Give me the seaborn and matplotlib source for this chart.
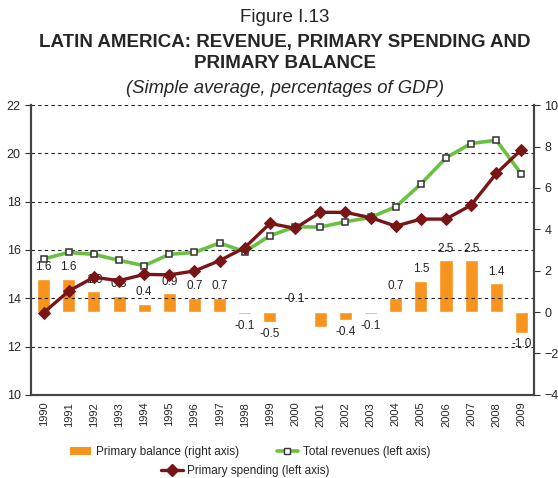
import numpy as np
import pandas as pd
import matplotlib.pyplot as plt
from matplotlib.patches import Patch
from matplotlib.lines import Line2D
import seaborn as sns

years = [str(y) for y in range(1990, 2010)]
revenues = [15.63, 15.90, 15.82, 15.57, 15.35, 15.82, 15.90, 16.29, 15.93, 16.59,
            16.96, 16.95, 17.17, 17.35, 17.79, 18.73, 19.82, 20.41, 20.55, 19.14]
spending = [13.40, 14.30, 14.87, 14.73, 14.99, 14.97, 15.13, 15.56, 16.10, 17.10,
            16.90, 17.56, 17.56, 17.34, 16.99, 17.28, 17.28, 17.86, 19.17, 20.16]
balance = [1.6, 1.6, 1.0, 0.8, 0.4, 0.9, 0.7, 0.7, -0.1, -0.5,
           0.05, -0.7, -0.4, -0.1, 0.7, 1.5, 2.5, 2.5, 1.4, -1.0]
balance_labels = ['1.6', '1.6', '1.0', '0.8', '0.4', '0.9', '0.7', '0.7', '-0.1', '-0.5',
                  '-0.1', '', '-0.4', '-0.1', '0.7', '1.5', '2.5', '2.5', '1.4', '-1.0']

ORANGE = '#F7941D'
GREEN = '#6CBF45'
DARKRED = '#7A1517'

df = pd.DataFrame({'year': years, 'revenues': revenues,
                   'spending': spending, 'balance': balance})
df['pos'] = np.arange(len(df))

sns.set_style('white')
plt.rcParams['font.family'] = ['Liberation Sans', 'DejaVu Sans']

fig, ax = plt.subplots(figsize=(5.58, 4.78), dpi=100)
fig.subplots_adjust(left=0.0556, right=0.957, top=0.78, bottom=0.174)
ax2 = ax.twinx()

# bars on the right axis, drawn below the lines
sns.barplot(data=df, x='pos', y='balance', ax=ax2, color=ORANGE,
            saturation=1, width=0.52, native_scale=True)
for i, (v, lab) in enumerate(zip(balance, balance_labels)):
    if not lab:
        continue
    if v >= 0:
        ax2.annotate(lab, (i, v), xytext=(0, 4), textcoords='offset points',
                     ha='center', va='bottom', fontsize=8.5, color='#222222')
    else:
        ax2.annotate(lab, (i, v), xytext=(0, -4), textcoords='offset points',
                     ha='center', va='top', fontsize=8.5, color='#222222')

sns.lineplot(data=df, x='pos', y='revenues', ax=ax, color=GREEN, linewidth=2.6,
             marker='s', markersize=5, markerfacecolor='white',
             markeredgecolor='#333333', markeredgewidth=1.1)
sns.lineplot(data=df, x='pos', y='spending', ax=ax, color=DARKRED, linewidth=2.4,
             marker='D', markersize=6.5, markeredgecolor=DARKRED)

ax.set_zorder(ax2.get_zorder() + 1)
ax.patch.set_visible(False)

ax.set_xlim(-0.5, len(years) - 0.5)
ax.set_ylim(10, 22)
ax.set_yticks(np.arange(10, 23, 2))
ax2.set_ylim(-4, 10)
ax2.set_yticks(np.arange(-4, 11, 2))
ax.set_xticks(np.arange(len(years)))
ax.set_xticklabels(years, rotation=90, fontsize=8)
ax.set_xticks(np.arange(-0.5, len(years), 1), minor=True)
ax.tick_params(axis='x', which='major', length=0, pad=5)
ax.tick_params(axis='x', which='minor', length=4, direction='out', color='#333333')
ax.tick_params(axis='y', length=4, direction='out', labelsize=9, color='#333333')
ax2.tick_params(axis='y', length=4, direction='out', labelsize=9, color='#333333')
ax.set_xlabel('')
ax.set_ylabel('')
ax2.set_ylabel('')

ax.yaxis.grid(True, linestyle=(0, (3, 3)), color='#222222', linewidth=0.8)
ax.xaxis.grid(False)
ax2.grid(False)

for a in (ax, ax2):
    a.spines['top'].set_visible(False)
    for s in ('left', 'right', 'bottom'):
        a.spines[s].set_color('#444444')
        a.spines[s].set_linewidth(1.5)

fig.text(0.51, 0.964, 'Figure I.13', ha='center', va='center', fontsize=13.5)
fig.text(0.51, 0.912, 'LATIN AMERICA: REVENUE, PRIMARY SPENDING AND',
         ha='center', va='center', fontsize=13.5, fontweight='bold')
fig.text(0.51, 0.868, 'PRIMARY BALANCE', ha='center', va='center',
         fontsize=13.5, fontweight='bold')
fig.text(0.51, 0.814, '(Simple average, percentages of GDP)', ha='center',
         va='center', fontsize=13.3, style='italic')

h_bal = Patch(facecolor=ORANGE, edgecolor='none')
h_rev = Line2D([], [], color=GREEN, linewidth=2.6, marker='s', markersize=5,
               markerfacecolor='white', markeredgecolor='#333333')
h_spe = Line2D([], [], color=DARKRED, linewidth=2.4, marker='D', markersize=6)
fig.legend([h_bal, h_rev], ['Primary balance (right axis)', 'Total revenues (left axis)'],
           loc='center', bbox_to_anchor=(0.448, 0.054), ncol=2, frameon=False,
           fontsize=8.5, handlelength=1.8, columnspacing=3.2, handletextpad=0.4)
fig.legend([h_spe], ['Primary spending (left axis)'],
           loc='center', bbox_to_anchor=(0.44, 0.015), frameon=False,
           fontsize=8.5, handlelength=1.8, handletextpad=0.4)

fig.savefig('out.png', dpi=100)
